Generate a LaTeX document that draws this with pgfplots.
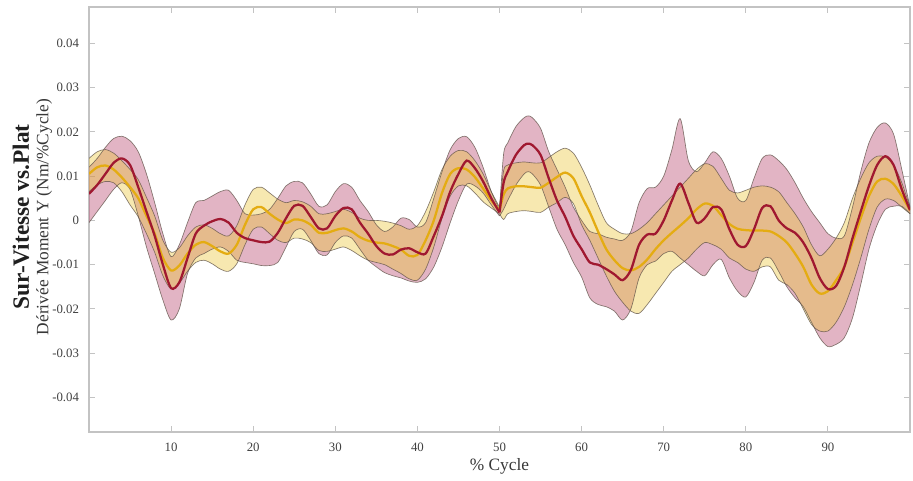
\documentclass[border=0pt]{standalone}
\usepackage{fontspec}
\setmainfont{Liberation Serif}
\usepackage{pgfplots}
\pgfplotsset{compat=1.18}
\usepgfplotslibrary{fillbetween}
\usepackage{pgfplotstable}

\definecolor{redline}{RGB}{160,24,48}
\definecolor{yelline}{RGB}{228,172,18}
\definecolor{redfill}{RGB}{182,67,107}
\definecolor{yelfill}{RGB}{235,197,57}
\definecolor{edgecol}{RGB}{95,82,72}
\definecolor{framecol}{RGB}{195,195,195}

\pgfplotstableread{
x m u l
0 0.0060 0.0120 -0.0005
1 0.0080 0.0140 0.0020
2 0.0105 0.0165 0.0045
3 0.0130 0.0185 0.0070
4 0.0140 0.0190 0.0085
5 0.0125 0.0180 0.0070
6 0.0075 0.0155 0.0010
7 0.0020 0.0105 -0.0060
8 -0.0035 0.0040 -0.0120
9 -0.0100 -0.0030 -0.0180
10 -0.0153 -0.0082 -0.0225
11 -0.0140 -0.0055 -0.0200
12 -0.0085 -0.0005 -0.0120
13 -0.0030 0.0040 -0.0085
14 -0.0012 0.0045 -0.0075
15 -0.0002 0.0055 -0.0065
16 0.0003 0.0065 -0.0060
17 -0.0005 0.0068 -0.0070
18 -0.0028 0.0045 -0.0090
19 -0.0040 0.0015 -0.0095
20 -0.0045 0.0012 -0.0098
21 -0.0049 0.0015 -0.0102
22 -0.0048 0.0025 -0.0102
23 -0.0028 0.0050 -0.0095
24 0.0005 0.0078 -0.0060
25 0.0033 0.0088 -0.0025
26 0.0033 0.0085 -0.0020
27 0.0008 0.0060 -0.0045
28 -0.0018 0.0032 -0.0075
29 -0.0018 0.0035 -0.0078
30 0.0010 0.0065 -0.0050
31 0.0028 0.0083 -0.0035
32 0.0025 0.0075 -0.0040
33 -0.0005 0.0045 -0.0065
34 -0.0030 0.0020 -0.0090
35 -0.0058 -0.0010 -0.0105
36 -0.0075 -0.0025 -0.0118
37 -0.0077 -0.0015 -0.0125
38 -0.0066 0.0005 -0.0130
39 -0.0063 0.0002 -0.0137
40 -0.0072 -0.0015 -0.0140
41 -0.0075 -0.0005 -0.0132
42 -0.0035 0.0050 -0.0105
43 0.0010 0.0110 -0.0060
44 0.0065 0.0160 -0.0005
45 0.0105 0.0185 0.0045
46 0.0135 0.0189 0.0082
47 0.0118 0.0165 0.0078
48 0.0088 0.0120 0.0062
49 0.0050 0.0065 0.0035
50 0.0018 0.0025 0.0010
}\redA

\pgfplotstableread{
x m u l
50 0.0018 0.0025 0.0010
50.5 0.0085 0.0150 0.0025
51 0.0110 0.0175 0.0045
52 0.0148 0.0212 0.0080
53 0.0170 0.0232 0.0105
53.5 0.0173 0.0236 0.0110
54 0.0170 0.0232 0.0105
55 0.0148 0.0208 0.0080
56 0.0095 0.0155 0.0030
57 0.0045 0.0115 -0.0020
58 0.0008 0.0075 -0.0055
59 -0.0035 0.0030 -0.0095
60 -0.0065 0.0000 -0.0128
61 -0.0095 -0.0025 -0.0175
62 -0.0100 -0.0030 -0.0190
63 -0.0110 -0.0038 -0.0195
64 -0.0122 -0.0042 -0.0205
65 -0.0135 -0.0045 -0.0225
66 -0.0112 -0.0025 -0.0200
67 -0.0055 0.0040 -0.0130
68 -0.0032 0.0072 -0.0100
69 -0.0030 0.0075 -0.0092
70 0.0000 0.0100 -0.0075
71 0.0045 0.0160 -0.0070
72 0.0083 0.0230 -0.0085
73 0.0040 0.0135 -0.0100
74 -0.0005 0.0110 -0.0115
75 0.0005 0.0130 -0.0125
76 0.0030 0.0155 -0.0100
77 0.0025 0.0140 -0.0088
78 -0.0020 0.0100 -0.0130
79 -0.0055 0.0050 -0.0160
80 -0.0058 0.0045 -0.0173
81 -0.0020 0.0095 -0.0140
82 0.0028 0.0140 -0.0090
83 0.0032 0.0148 -0.0085
84 0.0000 0.0135 -0.0115
85 -0.0018 0.0115 -0.0150
86 -0.0028 0.0085 -0.0175
87 -0.0050 0.0050 -0.0195
88 -0.0085 0.0020 -0.0230
89 -0.0130 -0.0005 -0.0265
90 -0.0155 -0.0030 -0.0285
91 -0.0148 -0.0040 -0.0280
92 -0.0105 -0.0035 -0.0265
93 -0.0040 0.0030 -0.0220
94 0.0020 0.0110 -0.0145
95 0.0078 0.0175 -0.0065
96 0.0125 0.0210 -0.0010
97 0.0145 0.0220 0.0025
98 0.0125 0.0195 0.0032
99 0.0070 0.0115 0.0032
100 0.0023 0.0030 0.0015
}\redB

\pgfplotstableread{
x m u l
0 0.0105 0.0140 0.0065
1 0.0120 0.0155 0.0080
2 0.0124 0.0160 0.0088
3 0.0115 0.0152 0.0085
4 0.0097 0.0135 0.0065
5 0.0075 0.0115 0.0035
6 0.0050 0.0092 0.0008
7 0.0010 0.0052 -0.0030
8 -0.0030 0.0010 -0.0072
9 -0.0085 -0.0045 -0.0125
10 -0.0113 -0.0072 -0.0155
11 -0.0102 -0.0062 -0.0142
12 -0.0075 -0.0035 -0.0115
13 -0.0055 -0.0015 -0.0095
14 -0.0049 -0.0010 -0.0090
15 -0.0058 -0.0018 -0.0098
16 -0.0070 -0.0030 -0.0110
17 -0.0075 -0.0035 -0.0115
18 -0.0055 -0.0012 -0.0098
19 -0.0010 0.0035 -0.0055
20 0.0025 0.0070 -0.0020
21 0.0030 0.0075 -0.0015
22 0.0015 0.0062 -0.0030
23 0.0002 0.0048 -0.0045
24 -0.0006 0.0040 -0.0050
25 0.0002 0.0045 -0.0040
26 0.0000 0.0042 -0.0042
27 -0.0010 0.0032 -0.0050
28 -0.0028 0.0015 -0.0068
29 -0.0028 0.0015 -0.0070
30 -0.0022 0.0020 -0.0065
31 -0.0018 0.0025 -0.0060
32 -0.0025 0.0018 -0.0068
33 -0.0038 0.0005 -0.0080
34 -0.0046 0.0000 -0.0090
35 -0.0050 0.0000 -0.0095
36 -0.0052 -0.0002 -0.0100
37 -0.0058 -0.0006 -0.0110
38 -0.0066 -0.0012 -0.0120
39 -0.0080 -0.0020 -0.0132
40 -0.0078 -0.0012 -0.0135
41 -0.0045 0.0020 -0.0110
42 0.0000 0.0065 -0.0060
43 0.0062 0.0115 0.0005
44 0.0105 0.0145 0.0055
45 0.0118 0.0158 0.0078
46 0.0115 0.0155 0.0078
47 0.0098 0.0135 0.0062
48 0.0072 0.0105 0.0042
49 0.0045 0.0065 0.0028
50 0.0023 0.0030 0.0015
}\yelA

\pgfplotstableread{
x m u l
50 0.0023 0.0030 0.0015
50.5 0.0058 0.0112 0.0002
51 0.0072 0.0125 0.0015
52 0.0077 0.0130 0.0020
53 0.0077 0.0132 0.0022
54 0.0075 0.0130 0.0020
55 0.0074 0.0130 0.0018
56 0.0085 0.0142 0.0030
57 0.0098 0.0155 0.0040
58 0.0108 0.0163 0.0052
59 0.0095 0.0152 0.0038
60 0.0055 0.0120 -0.0010
61 0.0018 0.0080 -0.0045
62 -0.0025 0.0035 -0.0085
63 -0.0065 -0.0005 -0.0125
64 -0.0090 -0.0020 -0.0160
65 -0.0108 -0.0030 -0.0185
66 -0.0113 -0.0030 -0.0205
67 -0.0105 -0.0020 -0.0210
68 -0.0088 -0.0005 -0.0190
69 -0.0065 0.0015 -0.0165
70 -0.0045 0.0035 -0.0140
71 -0.0028 0.0055 -0.0115
72 -0.0012 0.0075 -0.0100
73 0.0005 0.0095 -0.0085
74 0.0025 0.0115 -0.0065
75 0.0038 0.0128 -0.0050
76 0.0033 0.0122 -0.0055
77 0.0012 0.0095 -0.0065
78 -0.0008 0.0068 -0.0085
79 -0.0019 0.0062 -0.0095
80 -0.0022 0.0068 -0.0110
81 -0.0023 0.0075 -0.0115
82 -0.0023 0.0078 -0.0105
83 -0.0025 0.0075 -0.0105
84 -0.0035 0.0065 -0.0135
85 -0.0050 0.0040 -0.0145
86 -0.0075 0.0015 -0.0165
87 -0.0105 -0.0015 -0.0200
88 -0.0145 -0.0055 -0.0235
89 -0.0165 -0.0080 -0.0250
90 -0.0160 -0.0065 -0.0250
91 -0.0135 -0.0040 -0.0230
92 -0.0105 -0.0005 -0.0195
93 -0.0050 0.0050 -0.0145
94 0.0005 0.0095 -0.0085
95 0.0055 0.0130 -0.0020
96 0.0088 0.0145 0.0030
97 0.0094 0.0143 0.0048
98 0.0082 0.0125 0.0045
99 0.0055 0.0085 0.0030
100 0.0023 0.0030 0.0015
}\yelB

\begin{document}
\begin{tikzpicture}
\begin{axis}[
  name=ax,
  scale only axis,
  width=615.75pt, height=318.75pt,
  xmin=0, xmax=100, ymin=-0.0478, ymax=0.0482,
  xtick={10,20,30,40,50,60,70,80,90},
  ytick={-0.04,-0.03,-0.02,-0.01,0,0.01,0.02,0.03,0.04},
  yticklabels={-0.04,-0.03,-0.02,-0.01,0,0.01,0.02,0.03,0.04},
  xticklabels={10,20,30,40,50,60,70,80,90},
  scaled y ticks=false,
  tick align=inside, tick pos=both,
  major tick length=4.5pt,
  axis line style={framecol, line width=0.8pt},
  every tick/.style={framecol, line width=0.7pt},
  ticklabel style={font=\fontsize{9.6}{12}\selectfont, text=black!75},
  xticklabel style={yshift=-4.5pt},
  yticklabel style={xshift=-4pt},
  edge/.style={draw=edgecol, draw opacity=0.75, line width=0.5pt, smooth, forget plot},
  hid/.style={draw=none, smooth, forget plot},
]
% hidden paths for fills
\addplot[hid, name path=ruA] table[x=x,y=u]{\redA};
\addplot[hid, name path=rlA] table[x=x,y=l]{\redA};
\addplot[hid, name path=ruB] table[x=x,y=u]{\redB};
\addplot[hid, name path=rlB] table[x=x,y=l]{\redB};
\addplot[hid, name path=yuA] table[x=x,y=u]{\yelA};
\addplot[hid, name path=ylA] table[x=x,y=l]{\yelA};
\addplot[hid, name path=yuB] table[x=x,y=u]{\yelB};
\addplot[hid, name path=ylB] table[x=x,y=l]{\yelB};
% fills
\addplot[redfill, fill opacity=0.4, draw=none] fill between[of=ruA and rlA];
\addplot[redfill, fill opacity=0.4, draw=none] fill between[of=ruB and rlB];
\addplot[yelfill, fill opacity=0.4, draw=none] fill between[of=yuA and ylA];
\addplot[yelfill, fill opacity=0.4, draw=none] fill between[of=yuB and ylB];
% edges
\addplot[edge] table[x=x,y=u]{\redA};
\addplot[edge] table[x=x,y=l]{\redA};
\addplot[edge] table[x=x,y=u]{\redB};
\addplot[edge] table[x=x,y=l]{\redB};
\addplot[edge] table[x=x,y=u]{\yelA};
\addplot[edge] table[x=x,y=l]{\yelA};
\addplot[edge] table[x=x,y=u]{\yelB};
\addplot[edge] table[x=x,y=l]{\yelB};
% means
\addplot[yelline, line width=1.7pt, smooth] table[x=x,y=m]{\yelA};
\addplot[yelline, line width=1.7pt, smooth] table[x=x,y=m]{\yelB};
\addplot[redline, line width=1.7pt, smooth] table[x=x,y=m]{\redA};
\addplot[redline, line width=1.7pt, smooth] table[x=x,y=m]{\redB};
\end{axis}
\node[rotate=90, font=\bfseries\fontsize{17.5}{20}\selectfont, text=black!88] at ([xshift=-51pt, yshift=1.9pt]ax.west) {Sur-Vitesse vs.Plat};
\node[rotate=90, font=\fontsize{13}{15}\selectfont, text=black!78] at ([xshift=-33.5pt, yshift=1.9pt]ax.west) {Dérivée Moment Y (Nm/\%Cycle)};
\node[font=\fontsize{13}{15}\selectfont, text=black!78] at ([yshift=-25.5pt]ax.south) {\% Cycle};
\pgfresetboundingbox
\path ([xshift=-66.75pt,yshift=-36pt]ax.south west) rectangle ([xshift=2.25pt,yshift=5.25pt]ax.north east);
\end{tikzpicture}
\end{document}
